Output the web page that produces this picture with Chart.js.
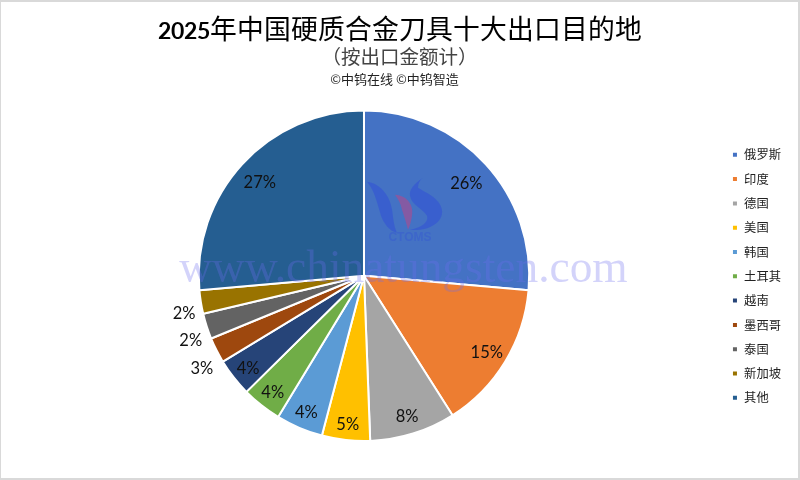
<!DOCTYPE html>
<html><head><meta charset="utf-8">
<script src="https://cdn.jsdelivr.net/npm/chart.js@4"></script>
<style>
@font-face{font-family:"TitleMix";src:local("Noto Sans CJK SC")}
@font-face{font-family:"TitleMix";src:local("Lato Bold");unicode-range:U+30-39;size-adjust:87%}
html,body{margin:0;padding:0;background:#fff}
#w{width:800px;height:480px;position:relative;box-sizing:border-box;overflow:hidden;border:2px solid #d9d9d9;border-left-width:1px}
canvas{position:absolute;left:-1px;top:-2px}</style>
</head><body><div id="w"><canvas id="c" width="800" height="480"></canvas></div>
<script>
const categories=["俄罗斯","印度","德国","美国","韩国","土耳其","越南","墨西哥","泰国","新加坡","其他"];
const shares=[26.4,14.6,8.4,4.7,4.6,3.9,3.7,2.5,2.5,2.3,26.4];
const shareLabels=["26%","15%","8%","5%","4%","4%","4%","3%","2%","2%","27%"];
const colors=["#4472c4","#ed7d31","#a5a5a5","#ffc000","#5b9bd5","#70ad47","#264478","#9e480e","#636363","#997300","#255e91"];
const outsideFrom=7, outsideTo=9;
const CJK='"Noto Sans CJK SC"';
const insideRatio=[.84,.87,.88,.895,.89,.89,.89,1,1,1,.855];
const overlay={id:'overlay',
 afterLayout(ch){
  const l=ch.legend,ca=ch.chartArea,p=l.options.labels.padding;
  l.top=(ca.top+ca.bottom)/2-l.columnSizes[0].height/2-p+6.5;
  l.bottom=478;
  l.legendHitBoxes.forEach(h=>{h.left+=1.5;});
 },
 afterDatasetsDraw(ch){
  const ctx=ch.ctx,meta=ch.getDatasetMeta(0);
  ctx.save();ctx.fillStyle='#111';ctx.font='16.5px Lato,'+CJK;ctx.textAlign='center';ctx.textBaseline='middle';
  meta.data.forEach((a,i)=>{
   const out=i>=outsideFrom&&i<=outsideTo;
   const r=out?a.outerRadius+22:a.outerRadius*insideRatio[i];
   const m=(a.startAngle+a.endAngle)/2;
   ctx.fillText(shareLabels[i],a.x+Math.cos(m)*r+(out?5:0),a.y+Math.sin(m)*r+(out?8:2));
  });
  ctx.restore();
 },
 afterDraw(ch){
  const ctx=ch.ctx,a=ch.getDatasetMeta(0).data[0];
  const cx=a.x,cy=a.y;
  ctx.save();
  ctx.textAlign='center';ctx.textBaseline='alphabetic';
  ctx.fillStyle='#222';ctx.font='13px '+CJK;
  ctx.fillText('©中钨在线 ©中钨智造',394.5,83.5);
  ctx.fillStyle='rgba(110,110,240,0.30)';ctx.font='45.4px "Liberation Serif"';
  ctx.fillText('www.chinatungsten.com',403.5,cy+6);
  ctx.translate(cx,cy);
  ctx.fillStyle='rgba(50,80,215,0.55)';
  ctx.beginPath();ctx.moveTo(3,-94);ctx.bezierCurveTo(18,-92,28,-78,29,-59);ctx.bezierCurveTo(30,-52,31,-47,33,-43);ctx.bezierCurveTo(25,-45,20,-52,17,-60);ctx.bezierCurveTo(13,-74,10,-86,3,-94);ctx.fill();
  ctx.beginPath();ctx.moveTo(59,-98);ctx.bezierCurveTo(50,-92,45,-86,46,-80);ctx.bezierCurveTo(48,-70,58,-68,63,-60);ctx.bezierCurveTo(65,-54,58,-48,46,-46);ctx.bezierCurveTo(62,-44,80,-52,78,-66);ctx.bezierCurveTo(76,-78,60,-84,54,-88);ctx.bezierCurveTo(54,-92,56,-96,59,-98);ctx.fill();
  ctx.fillStyle='rgba(160,80,150,0.70)';
  ctx.beginPath();ctx.moveTo(31,-81);ctx.bezierCurveTo(44,-80,50,-70,48,-60);ctx.bezierCurveTo(47,-54,46,-50,44,-46);ctx.bezierCurveTo(42,-54,40,-60,38,-66);ctx.bezierCurveTo(37,-72,34,-77,31,-81);ctx.fill();
  ctx.fillStyle='rgba(50,80,215,0.35)';ctx.font='bold 12px "Liberation Sans"';
  ctx.fillText('CTOMS',46,-35);
  ctx.restore();
 }};
const fontsReady=Promise.all([document.fonts.load('26.8px TitleMix','2025'),document.fonts.load('26.8px TitleMix','年中国')]).catch(()=>{});
fontsReady.then(()=>{
new Chart(document.getElementById('c'),{type:'pie',
 data:{labels:categories,datasets:[{data:shares,backgroundColor:colors,borderColor:'#fff',borderWidth:2}]},
 plugins:[overlay],
 options:{responsive:false,animation:false,
  layout:{padding:{top:4,bottom:38,left:8,right:9}},
  plugins:{tooltip:{enabled:false},
   title:{display:true,text:'2025年中国硬质合金刀具十大出口目的地',color:'#000',font:{family:'TitleMix,'+CJK,size:26.8,weight:'normal'},padding:{top:9,bottom:0}},
   subtitle:{display:true,text:'（按出口金额计）',color:'#444',font:{family:CJK,size:19.5,weight:'normal'},padding:{bottom:41}},
   legend:{position:'right',align:'start',labels:{boxWidth:6,boxHeight:6,padding:12,color:'#222',font:{family:CJK,size:12.3}}}
  }}});
});
</script></body></html>
